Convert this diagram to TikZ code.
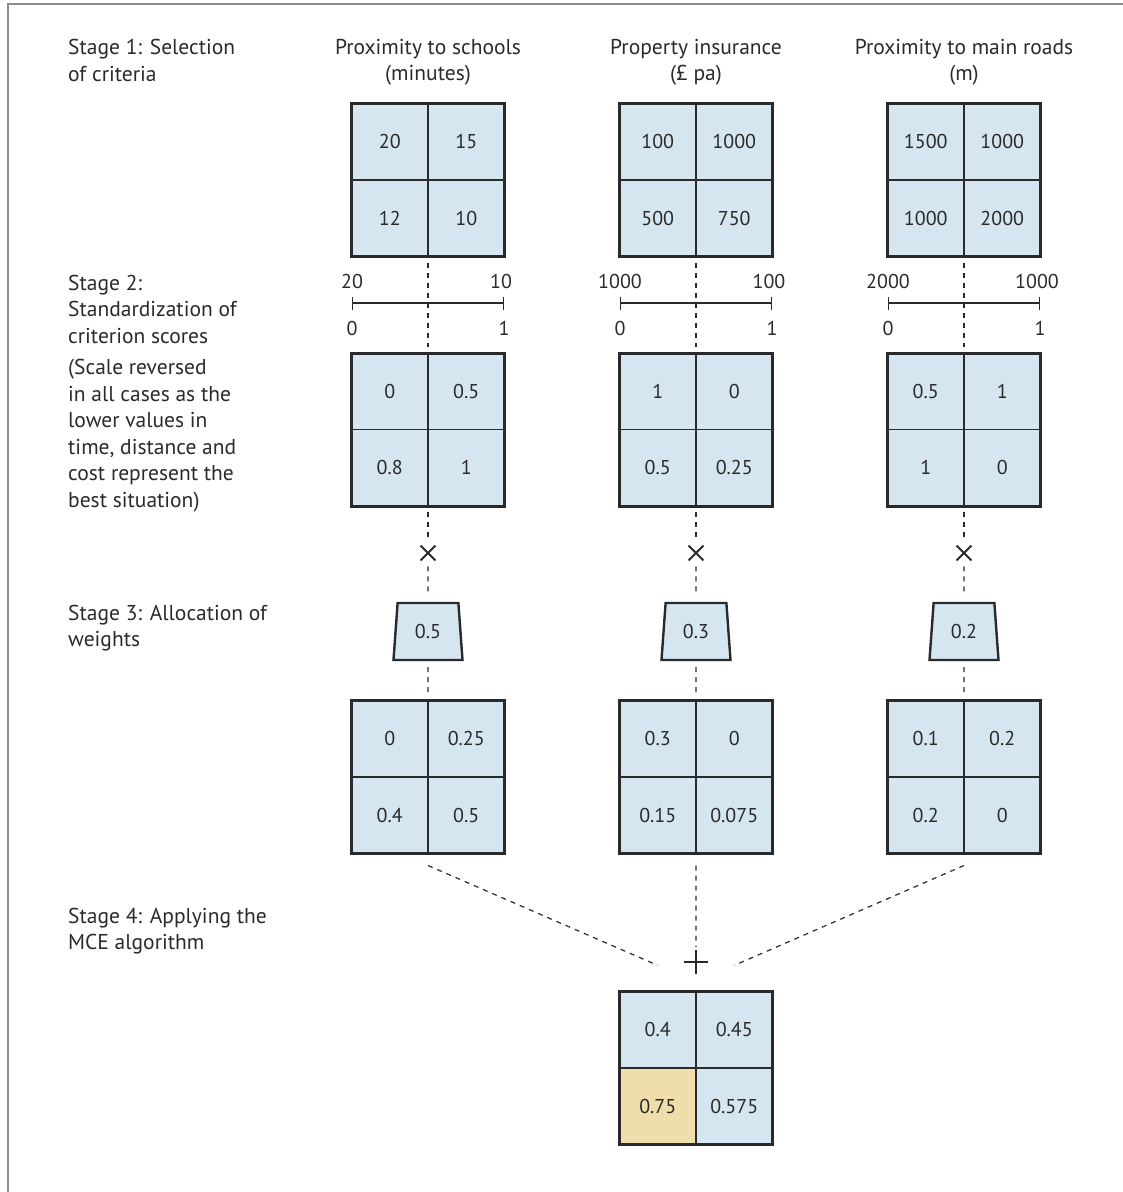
\documentclass[tikz,border=0pt]{standalone}
\usepackage{fontspec}
\setmainfont{PT Sans}
\usepackage{tikz}
\usetikzlibrary{shapes.geometric,shapes.misc,arrows.meta,positioning,calc}
\usepackage{xcolor}

\definecolor{cellblue}{RGB}{214,230,240}
\definecolor{cellsand}{RGB}{240,221,172}
\definecolor{ink}{RGB}{42,42,42}
\definecolor{framegray}{RGB}{140,140,140}

% 2x2 raster: name, x, y (centre), four values, fill of lower-left cell
\newcommand{\mcegrid}[8]{%
  \node[cell, anchor=south east] (#1-a) at (#2,#3) {#4};
  \node[cell, anchor=south west] (#1-b) at (#2,#3) {#5};
  \node[cell, anchor=north east, fill=#8] (#1-c) at (#2,#3) {#6};
  \node[cell, anchor=north west] (#1-d) at (#2,#3) {#7};
  \node[gridframe] (#1) at (#2,#3) {};
}

\begin{document}
\begin{tikzpicture}[
    x=1pt, y=-1pt,
    txt/.style={font=\fontsize{20}{26.5}\selectfont, text=ink, inner sep=0pt},
    stage/.style={txt, font=\fontsize{21.5}{26.5}\selectfont, anchor=north west, align=left},
    header/.style={txt, font=\fontsize{21.5}{26.5}\selectfont, anchor=north, align=center},
    cell/.style={rectangle, draw=ink, line width=1.3pt, fill=cellblue, minimum size=76.5pt, outer sep=0pt, font=\fontsize{20}{24}\selectfont, text=ink},
    gridframe/.style={rectangle, draw=ink, line width=3pt, minimum size=153pt, outer sep=0pt},
    weight/.style={trapezium, trapezium angle=79, trapezium stretches body, draw=ink, line width=2.4pt, fill=cellblue, minimum width=69pt, minimum height=57pt, font=\fontsize{20}{24}\selectfont, text=ink},
    times/.style={cross out, draw=ink, line width=1.8pt, minimum size=13pt, inner sep=0pt},
    plus/.style={cross out, rotate=45, draw=ink, line width=1.8pt, minimum size=15pt, inner sep=0pt},
    link/.style={draw=ink, line width=1.2pt, dash pattern=on 5pt off 5pt, shorten <=6pt, shorten >=6pt},
    scalebar/.style={draw=ink, line width=1.4pt, {Bar[width=13pt]}-{Bar[width=13pt]}}
]
\useasboundingbox (0,0) rectangle (1123,1192);

% frame
\draw[framegray, line width=2pt] (8,1192) -- (8,4) -- (1123,4);

% stage labels
\node[stage] (st1) at (68,39) {Stage 1: Selection\\of criteria};
\node[stage] (st2) at (68,274.5) {Stage 2:\\Standardization of\\criterion scores\\[5pt](Scale reversed\\in all cases as the\\lower values in\\time, distance and\\cost represent the\\best situation)};
\node[stage] (st3) at (68,604.5) {Stage 3: Allocation of\\weights};
\node[stage] (st4) at (68,907.5) {Stage 4: Applying the\\MCE algorithm};

% criteria
\node[header] (h1) at (428,39) {Proximity to schools\\(minutes)};
\node[header] (h2) at (696,39) {Property insurance\\(£ pa)};
\node[header] (h3) at (964,39) {Proximity to main roads\\(m)};

% stage 1 rasters
\mcegrid{crit1}{428}{180}{20}{15}{12}{10}{cellblue}
\mcegrid{crit2}{696}{180}{100}{1000}{500}{750}{cellblue}
\mcegrid{crit3}{964}{180}{1500}{1000}{1000}{2000}{cellblue}

% standardization scales
\foreach \c/\x/\hi/\lo in {1/428/20/10, 2/696/1000/100, 3/964/2000/1000} {
  \coordinate (bar\c-l) at (\x-76,303);
  \coordinate (bar\c-r) at (\x+76,303);
  \draw[scalebar] (bar\c-l) -- (bar\c-r);
  \node[txt] (hi\c) at ([yshift=22pt]bar\c-l) {\hi};
  \node[txt] (lo\c) at ([yshift=22pt,xshift=-3pt]bar\c-r) {\lo};
  \node[txt] (zero\c) at ([yshift=-25pt]bar\c-l) {0};
  \node[txt] (one\c) at ([yshift=-25pt]bar\c-r) {1};
}

% stage 2 rasters
\mcegrid{std1}{428}{429.5}{0}{0.5}{0.8}{1}{cellblue}
\mcegrid{std2}{696}{429.5}{1}{0}{0.5}{0.25}{cellblue}
\mcegrid{std3}{964}{429.5}{0.5}{1}{1}{0}{cellblue}

% weights
\node[times] (x1) at (428,553) {};
\node[times] (x2) at (696,553) {};
\node[times] (x3) at (964,553) {};
\node[weight] (wt1) at (428,631.5) {0.5};
\node[weight] (wt2) at (696,631.5) {0.3};
\node[weight] (wt3) at (964,631.5) {0.2};

% stage 3 rasters
\mcegrid{prod1}{428}{777}{0}{0.25}{0.4}{0.5}{cellblue}
\mcegrid{prod2}{696}{777}{0.3}{0}{0.15}{0.075}{cellblue}
\mcegrid{prod3}{964}{777}{0.1}{0.2}{0.2}{0}{cellblue}

% MCE result
\node[plus] (sum) at (696,962) {};
\coordinate (meet) at ([yshift=-20pt]sum.center);
\mcegrid{mce}{696}{1068}{0.4}{0.45}{0.75}{0.575}{cellsand}

% connectors
\foreach \i in {1,2,3} {
  \draw[link] (crit\i.south) -- (std\i.north);
  \draw[link] (std\i.south) -- (x\i.north);
  \draw[link] (x\i.south) -- (wt\i.north);
  \draw[link] (wt\i.south) -- (prod\i.north);
}
\draw[link, shorten <=0pt, shorten >=42pt] ([yshift=-12pt]prod1.south) -- (meet);
\draw[link, shorten <=0pt, shorten >=42pt] ([yshift=-12pt]prod3.south) -- (meet);
\draw[link, shorten <=0pt, shorten >=3pt] ([yshift=-12pt]prod2.south) -- (sum);

\end{tikzpicture}
\end{document}
